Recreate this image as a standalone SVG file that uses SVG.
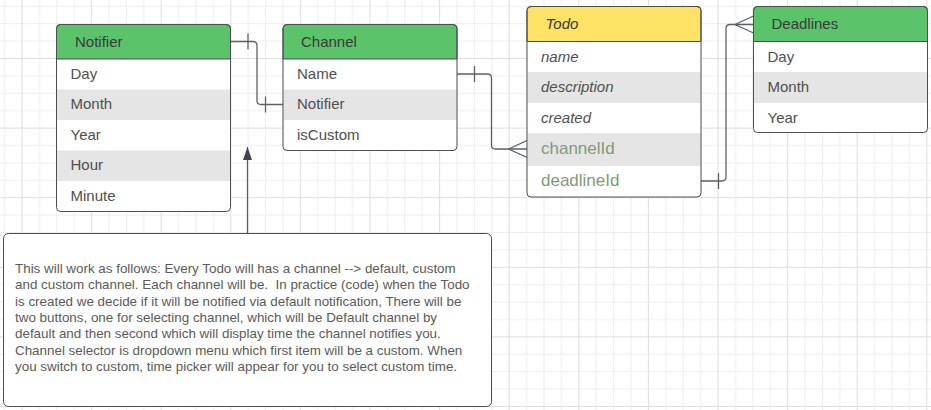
<svg xmlns="http://www.w3.org/2000/svg" width="931" height="410" viewBox="0 0 931 410">
<style>
.hdr{font-family:"Liberation Sans",Arial,sans-serif;font-size:15px;fill:#3a3a3a}
.txt{font-family:"Liberation Sans",Arial,sans-serif;font-size:15px;fill:#4f4f4f}
.it{font-style:italic}
.fk{font-family:"Liberation Sans",Arial,sans-serif;font-size:17px;fill:#7f9a78}
.box{fill:none;stroke:#4a4d52;stroke-width:1}
.bg{fill:#ffffff}
.alt{fill:#e5e5e5}
.green{fill:#5bc46a;stroke:#4a4d52;stroke-width:1}
.yellow{fill:#fee265;stroke:#4a4d52;stroke-width:1}
.conn{fill:none;stroke:#5c6168;stroke-width:1.3}
.note{font-family:"Liberation Sans",Arial,sans-serif;font-size:13.4px;fill:#5a5a5a;white-space:pre}
</style>
<defs>
<pattern id="grid" patternUnits="userSpaceOnUse" x="21.5" y="58" width="69.6" height="69.6">
<path d="M17.9,0V69.6M35.3,0V69.6M52.7,0V69.6M0,17.9H69.6M0,35.3H69.6M0,52.7H69.6" stroke="#ededed" stroke-width="1" fill="none"/>
<path d="M0.5,0V69.6M0,0.5H69.6" stroke="#dedede" stroke-width="1" fill="none"/>
</pattern>
<marker id="one" markerUnits="userSpaceOnUse" viewBox="0 0 20 20" refX="20" refY="10" markerWidth="20" markerHeight="20" orient="auto-start-reverse">
<path d="M2.5,2V18" stroke="#5c6168" stroke-width="1.3" fill="none"/>
</marker>
<marker id="many" markerUnits="userSpaceOnUse" viewBox="0 0 20 20" refX="20" refY="10" markerWidth="20" markerHeight="20" orient="auto-start-reverse">
<path d="M1.5,10L20,1.5M1.5,10L20,18.5" stroke="#5c6168" stroke-width="1.3" fill="none"/>
</marker>
<marker id="arrow" markerUnits="userSpaceOnUse" viewBox="0 0 13 9" refX="13" refY="4.5" markerWidth="13" markerHeight="9" orient="auto">
<path d="M0,0L13,4.5L0,9Z" fill="#3f444b"/>
</marker>
</defs>
<rect x="0" y="0" width="931" height="410" fill="#ffffff"/>
<rect x="0" y="0" width="931" height="410" fill="url(#grid)"/>

<g id="connectors">
<path class="conn" d="M230.5,41.5H253Q257,41.5 257,45.5V100.5Q257,104.5 261,104.5H283" marker-start="url(#one)" marker-end="url(#one)"/>
<path class="conn" d="M457,74H487.5Q491.5,74 491.5,78V145Q491.5,149 495.5,149H527" marker-start="url(#one)" marker-end="url(#many)"/>
<path class="conn" d="M701,181H722Q726,181 726,177V28.5Q726,24.5 730,24.5H753.5" marker-start="url(#one)" marker-end="url(#many)"/>
<path class="conn" d="M247.5,233V147" marker-end="url(#arrow)"/>
</g>

<g id="notifier">
<rect class="bg" x="56.5" y="24.5" width="174" height="187" rx="4"/>
<path class="green" d="M56.5,59V28.5A4,4 0 0 1 60.5,24.5H226.5A4,4 0 0 1 230.5,28.5V59Z"/>
<rect class="alt" x="57" y="89.5" width="173" height="30.5"/>
<rect class="alt" x="57" y="150.5" width="173" height="30.5"/>
<rect class="box" x="56.5" y="24.5" width="174" height="187" rx="4"/>
<text class="hdr" x="75" y="46.5">Notifier</text>
<text class="txt" x="70.5" y="78.5">Day</text>
<text class="txt" x="70.5" y="109">Month</text>
<text class="txt" x="70.5" y="139.5">Year</text>
<text class="txt" x="70.5" y="170">Hour</text>
<text class="txt" x="70.5" y="200.5">Minute</text>
</g>

<g id="channel">
<rect class="bg" x="283" y="24.5" width="174" height="126" rx="4"/>
<path class="green" d="M283,59V28.5A4,4 0 0 1 287,24.5H453A4,4 0 0 1 457,28.5V59Z"/>
<rect class="alt" x="283.5" y="89.5" width="173" height="30.5"/>
<rect class="box" x="283" y="24.5" width="174" height="126" rx="4"/>
<text class="hdr" x="301" y="46.5">Channel</text>
<text class="txt" x="297" y="78.5">Name</text>
<text class="txt" x="297" y="109">Notifier</text>
<text class="txt" x="297" y="139.5">isCustom</text>
</g>

<g id="todo">
<rect class="bg" x="527" y="6.5" width="174" height="190.5" rx="4"/>
<path class="yellow" d="M527,41.5V10.5A4,4 0 0 1 531,6.5H697A4,4 0 0 1 701,10.5V41.5Z"/>
<rect class="alt" x="527.5" y="72" width="173" height="31"/>
<rect class="alt" x="527.5" y="133" width="173" height="33"/>
<rect class="box" x="527" y="6.5" width="174" height="190.5" rx="4"/>
<text class="hdr it" x="545.5" y="29">Todo</text>
<text class="txt it" x="541" y="61.5">name</text>
<text class="txt it" x="541" y="92">description</text>
<text class="txt it" x="541" y="122.5">created</text>
<text class="fk" x="541" y="154">channelId</text>
<text class="fk" x="541" y="186">deadlineId</text>
</g>

<g id="deadlines">
<rect class="bg" x="753.5" y="6.5" width="174" height="126" rx="4"/>
<path class="green" d="M753.5,41.5V10.5A4,4 0 0 1 757.5,6.5H923.5A4,4 0 0 1 927.5,10.5V41.5Z"/>
<rect class="alt" x="754" y="72" width="173" height="31"/>
<rect class="box" x="753.5" y="6.5" width="174" height="126" rx="4"/>
<text class="hdr" x="771.5" y="29">Deadlines</text>
<text class="txt" x="767.5" y="61.5">Day</text>
<text class="txt" x="767.5" y="92">Month</text>
<text class="txt" x="767.5" y="122.5">Year</text>
</g>

<g id="note">
<rect x="3.5" y="233.5" width="488" height="173" rx="5" fill="#ffffff" stroke="#4a4d52" stroke-width="1"/>
<text class="note" x="15" y="273">This will work as follows: Every Todo will has a channel --&gt; default, custom</text>
<text class="note" x="15" y="289.3">and custom channel. Each channel will be.  In practice (code) when the Todo</text>
<text class="note" x="15" y="305.6">is created we decide if it will be notified via default notification, There will be</text>
<text class="note" x="15" y="321.9">two buttons, one for selecting channel, which will be Default channel by</text>
<text class="note" x="15" y="338.2">default and then second which will display time the channel notifies you.</text>
<text class="note" x="15" y="354.5">Channel selector is dropdown menu which first item will be a custom. When</text>
<text class="note" x="15" y="370.8">you switch to custom, time picker will appear for you to select custom time.</text>
</g>
</svg>
